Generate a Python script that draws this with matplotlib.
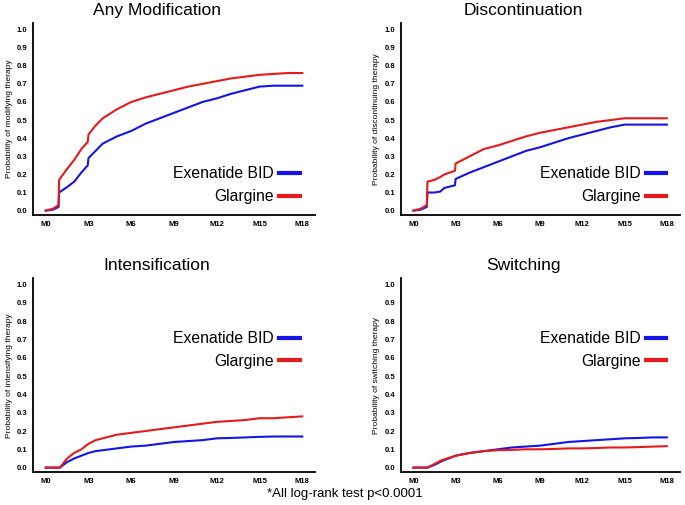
import matplotlib
matplotlib.use("Agg")
import matplotlib.pyplot as plt

plt.rcParams['font.family'] = ['Liberation Sans', 'DejaVu Sans']

# months for each curve; repeated x gives the vertical jumps
months_any = [0, 0.5, 0.9, 0.94, 1.5, 2, 2.5, 2.95, 3.0, 3.5, 4, 5, 6, 7, 8, 9, 10, 11, 12, 13, 14, 15, 16, 17, 18]
any_exe = [0, 0.005, 0.02, 0.10, 0.13, 0.16, 0.21, 0.25, 0.29, 0.33, 0.37, 0.41, 0.44, 0.48, 0.51, 0.54, 0.57, 0.60, 0.62, 0.645, 0.665, 0.685, 0.69, 0.69, 0.69]
any_gla = [0, 0.01, 0.03, 0.17, 0.23, 0.28, 0.34, 0.38, 0.42, 0.47, 0.51, 0.56, 0.60, 0.625, 0.645, 0.665, 0.685, 0.70, 0.715, 0.73, 0.74, 0.75, 0.755, 0.76, 0.76]

months_disc = [0, 0.5, 0.95, 1.0, 1.5, 1.9, 2.2, 2.95, 3.0, 4, 5, 6, 7, 8, 9, 10, 11, 12, 13, 14, 15, 16, 17, 18]
disc_exe = [0, 0.005, 0.02, 0.10, 0.10, 0.105, 0.125, 0.14, 0.175, 0.21, 0.24, 0.27, 0.30, 0.33, 0.35, 0.375, 0.40, 0.42, 0.44, 0.46, 0.475, 0.475, 0.475, 0.475]
disc_gla = [0, 0.01, 0.03, 0.16, 0.17, 0.185, 0.20, 0.22, 0.26, 0.30, 0.34, 0.36, 0.385, 0.41, 0.43, 0.445, 0.46, 0.475, 0.49, 0.50, 0.51, 0.51, 0.51, 0.51]

months_int = [0, 1.0, 1.5, 2, 2.5, 3, 3.5, 4, 5, 6, 7, 8, 9, 10, 11, 12, 13, 14, 15, 16, 17, 18]
int_exe = [0, 0, 0.03, 0.05, 0.065, 0.08, 0.09, 0.095, 0.105, 0.115, 0.12, 0.13, 0.14, 0.145, 0.15, 0.16, 0.162, 0.165, 0.168, 0.17, 0.17, 0.17]
int_gla = [0, 0, 0.05, 0.08, 0.10, 0.13, 0.15, 0.16, 0.18, 0.19, 0.20, 0.21, 0.22, 0.23, 0.24, 0.25, 0.255, 0.26, 0.27, 0.27, 0.275, 0.28]

months_sw = [0, 1.0, 1.5, 2, 3, 4, 5, 6, 7, 8, 9, 10, 11, 12, 13, 14, 15, 16, 17, 18]
sw_exe = [0, 0, 0.015, 0.035, 0.065, 0.08, 0.09, 0.10, 0.11, 0.115, 0.12, 0.13, 0.14, 0.145, 0.15, 0.155, 0.16, 0.162, 0.165, 0.165]
sw_gla = [0, 0, 0.02, 0.04, 0.065, 0.08, 0.09, 0.095, 0.097, 0.10, 0.10, 0.102, 0.105, 0.105, 0.107, 0.11, 0.11, 0.112, 0.115, 0.117]

titles = ["Any Modification", "Discontinuation", "Intensification", "Switching"]
ylabels = ["Probability of modifying therapy", "Probability of discontinuing therapy",
           "Probability of intensifying therapy", "Probability of switching therapy"]
xticks = [0, 3, 6, 9, 12, 15, 18]
xticklabels = ["M0", "M3", "M6", "M9", "M12", "M15", "M18"]
yticks = [0, 0.1, 0.2, 0.3, 0.4, 0.5, 0.6, 0.7, 0.8, 0.9, 1.0]

panels = [
    (months_any, any_exe, any_gla),
    (months_disc, disc_exe, disc_gla),
    (months_int, int_exe, int_gla),
    (months_sw, sw_exe, sw_gla),
]

blue = "#1414e6"
red = "#e61a1a"

fig = plt.figure(figsize=(6.85, 5.05), dpi=100)
rects = [
    [0.048, 0.574, 0.412, 0.380],
    [0.585, 0.574, 0.407, 0.380],
    [0.048, 0.065, 0.412, 0.384],
    [0.585, 0.065, 0.407, 0.384],
]
legend_y = [0.156, 0.156, 0.63, 0.63]
legend_x = [0.968, 0.975, 0.968, 0.975]

for i, (m, exe, gla) in enumerate(panels):
    ax = fig.add_axes(rects[i])
    ax.plot(m, exe, color=blue, lw=1.5, label="Exenatide BID")
    ax.plot(m, gla, color=red, lw=1.5, label="Glargine")
    ax.set_xlim(-0.9, 18.9)
    ax.set_ylim(-0.025, 1.035)
    ax.set_xticks(xticks)
    ax.set_xticklabels(xticklabels)
    ax.set_yticks(yticks)
    ax.set_yticklabels(["%.1f" % v for v in yticks])
    ax.tick_params(length=0, labelsize=5.5, pad=4)
    for lab in ax.get_xticklabels() + ax.get_yticklabels():
        lab.set_fontweight("bold")
    for s in ["top", "right"]:
        ax.spines[s].set_visible(False)
    for s in ["left", "bottom"]:
        ax.spines[s].set_linewidth(1.3)
    ax.set_ylabel(ylabels[i], fontsize=6, labelpad=3)
    ax.set_title(titles[i], fontsize=12.5, pad=6, x=0.44)
    leg = ax.legend(loc="center right", bbox_to_anchor=(legend_x[i], legend_y[i]),
                    frameon=False, markerfirst=False, fontsize=11.3,
                    handlelength=1.3, handletextpad=0.35, labelspacing=0.5,
                    borderaxespad=0)
    for ln in leg.get_lines():
        ln.set_linewidth(3)

fig.text(0.504, 0.022, "*All log-rank test p<0.0001", ha="center", va="center", fontsize=9.5)

fig.savefig("out.png", dpi=100)
